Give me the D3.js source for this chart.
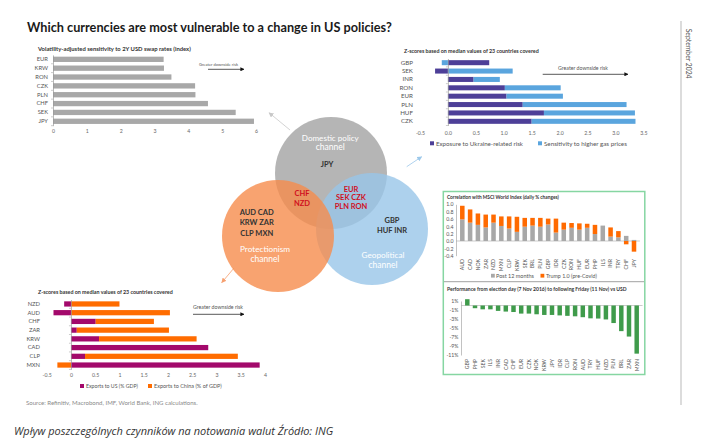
<!DOCTYPE html>
<html><head><meta charset="utf-8">
<script src="https://cdn.jsdelivr.net/npm/d3@7"></script>
<style>
html,body{margin:0;padding:0;background:#fff;}
svg{display:block;}
</style></head><body>
<svg id="c" width="706" height="445"></svg>
<script>
// ---------------- DATA ----------------
const swapCats = ["EUR","KRW","RON","CZK","PLN","CHF","SEK","JPY"];
const swapValues = [3.27,3.28,3.5,4.2,4.21,4.58,5.4,5.94];
const swapTicks = [0,1,2,3,4,5,6];

const geoCats = ["GBP","SEK","INR","RON","EUR","PLN","HUF","CZK"];
const ukraineExposure = [0.74,-0.23,0.46,1.02,1.05,1.34,1.72,1.5];
const gasSensitivity = [-0.11,1.16,0.47,1.0,1.01,1.86,1.63,1.86];
const geoTicks = [-0.5,0,0.5,1,1.5,2,2.5,3,3.5];

const tradeCats = ["NZD","AUD","CHF","ZAR","KRW","CAD","CLP","MXN"];
const exportsUS = [-0.14,-0.36,0.51,0.12,0.58,2.83,0.29,3.89];
const exportsChina = [1.0,2.04,1.2,1.9,2.01,0,3.15,-0.28];
const tradeTicks = [-0.5,0,0.5,1,1.5,2,2.5,3,3.5,4];

const corrCats = ["AUD","CAD","NOK","ZAR","NZD","MXN","CLP","KRW","SEK","BRL","PLN","GBP","IDR","CZK","RON","HUF","EUR","PHP","ILS","INR","TRY","CHF","JPY"];
const corrPost12m = [0.59,0.5,0.44,0.37,0.5,0.41,0.34,0.25,0.39,0.42,0.39,0.45,0.23,0.31,0.36,0.31,0.36,0.19,0.42,0.12,0.1,0.14,0.03];
const corrTrump1 = [0.37,0.36,0.31,0.35,0.22,0.26,0.33,0.41,0.24,0.21,0.24,0.16,0.38,0.19,0.13,0.17,0.11,0.25,0,0.25,0.17,-0.09,-0.29];
const corrTicks = [1.0,0.8,0.6,0.4,0.2,0,-0.2,-0.4];

const perfCats = ["GBP","PHP","SEK","ILS","INR","CAD","CHF","EUR","CZK","NOK","KRW","JPY","IDR","CLP","RON","AUD","TRY","HUF","NZD","PLN","BRL","ZAR","MXN"];
const perfValues = [1.4,-0.6,-0.85,-0.85,-1.2,-1.35,-1.45,-1.8,-1.8,-1.95,-2.1,-2.1,-2.2,-2.3,-2.4,-2.6,-2.85,-2.9,-3.1,-3.9,-5.7,-6.9,-10.7];
const perfTicks = [1,-1,-3,-5,-7,-9,-11];

const domesticCcy = ["JPY"];
const domesticProtCcy = ["CHF","NZD"];
const domesticGeoCcy = ["EUR","SEK  CZK","PLN RON"];
const protCcy = ["AUD CAD","KRW ZAR","CLP MXN"];
const geoCcy = ["GBP","HUF INR"];

// ---------------- HELPERS ----------------
const svg = d3.select("#c");
const FONT = "Lato, 'Open Sans', sans-serif";
svg.append("rect").attr("width",706).attr("height",445).attr("fill","#fff");

function fit(t, w){
  const L = t.node().getComputedTextLength();
  if (L > 0) { const fs = parseFloat(t.attr("font-size")); t.attr("font-size", (fs*w/L).toFixed(2)); }
  return t;
}
function txt(g, x, y, s, o = {}){
  const t = g.append("text").attr("x",x).attr("y",y).text(s)
    .attr("font-size", o.size || 6).attr("fill", o.fill || "#333")
    .attr("font-family", o.family || FONT)
    .attr("text-anchor", o.anchor || "start");
  if (o.weight) t.attr("font-weight", o.weight);
  if (o.style) t.attr("font-style", o.style);
  if (o.w) fit(t, o.w);
  return t;
}
const defs = svg.append("defs");
function marker(id, color, size){
  defs.append("marker").attr("id",id).attr("viewBox","0 0 10 10")
    .attr("refX",9).attr("refY",5).attr("markerWidth",size).attr("markerHeight",size)
    .attr("markerUnits","userSpaceOnUse").attr("orient","auto")
    .append("path").attr("d","M0,0L10,5L0,10z").attr("fill",color);
}
marker("mBlack","#111",4);
marker("mGray","#c8c8c8",5);
marker("mBlue","#9cc8ea",5);
marker("mOrange","#f6a070",5);
function arrow(x1,y1,x2,y2,color,m,w){
  svg.append("line").attr("x1",x1).attr("y1",y1).attr("x2",x2).attr("y2",y2)
    .attr("stroke",color).attr("stroke-width",w||0.8).attr("marker-end",`url(#${m})`);
}
function styleAxisText(g, size, fill){
  g.selectAll("text").attr("font-size",size).attr("fill",fill||"#666").attr("font-family",FONT);
}

// horizontal (diverging) stacked bar chart
function hChart(o){
  const x = d3.scaleLinear(o.xDomain, o.xRange);
  const y = d3.scaleBand(o.cats, o.yRange).paddingInner(0.4).paddingOuter(0.2);
  const rows = o.cats.map((c,i)=>{ const r={cat:c}; o.series.forEach(s=>r[s.key]=s.values[i]); return r; });
  const stacked = d3.stack().keys(o.series.map(s=>s.key)).offset(d3.stackOffsetDiverging)(rows);
  const g = svg.append("g");
  stacked.forEach((layer,li)=>{
    g.append("g").selectAll("rect").data(layer).join("rect")
      .attr("x", d=>x(Math.min(d[0],d[1])))
      .attr("width", d=>Math.abs(x(d[1])-x(d[0])))
      .attr("y", d=>y(d.data.cat)).attr("height", y.bandwidth())
      .attr("fill", o.series[li].color);
  });
  const ya = g.append("g").attr("transform",`translate(${x(0)},0)`)
    .call(d3.axisLeft(y).tickSize(2).tickSizeOuter(0).tickPadding(o.labelPad));
  ya.select(".domain").attr("stroke","#999").attr("stroke-width",0.7);
  ya.selectAll(".tick line").attr("stroke","#999").attr("stroke-width",0.5).attr("transform",`translate(0,${y.step()/2})`);
  styleAxisText(ya, o.catSize || 5.8, "#555");
  const xa = g.append("g").attr("transform",`translate(0,${o.tickY})`)
    .call(d3.axisBottom(x).tickValues(o.ticks).tickFormat(o.fmt).tickSize(0).tickPadding(0));
  xa.select(".domain").remove();
  styleAxisText(xa, 5.2, "#666");
  return {x,y};
}

// ---------------- TITLE ----------------
txt(svg, 27, 31.5, "Which currencies are most vulnerable to a change in US policies?", {size:14, weight:"bold", fill:"#1a1a1a", w:365});

// right vertical rule + date
svg.append("line").attr("x1",681).attr("x2",681).attr("y1",21).attr("y2",405).attr("stroke","#dcdcdc").attr("stroke-width",2);
txt(svg, 0, 0, "September 2024", {size:7, fill:"#555", w:50}).attr("transform","translate(686,28.7) rotate(90)");

// ---------------- TOP-LEFT ----------------
txt(svg, 38, 51, "Volatility-adjusted sensitivity to 2Y USD swap rates (index)", {size:6, fill:"#333", weight:"bold", w:153});
hChart({cats:swapCats, series:[{key:"v", values:swapValues, color:"#a8a8a8"}],
  xDomain:[0,6], xRange:[53,256], yRange:[54.9,125.7], ticks:swapTicks, fmt:d3.format("d"),
  labelPad:3, tickY:129.5});
txt(svg, 218.5, 66, "Greater downside risk", {size:5, fill:"#555", anchor:"middle", w:39});
arrow(208,69.3,244,69.3,"#111","mBlack",0.7);

// ---------------- TOP-RIGHT ----------------
txt(svg, 404, 52.5, "Z-scores based on median values of 23 countries covered", {size:6, fill:"#333", weight:"bold", w:135});
hChart({cats:geoCats, series:[{key:"u", values:ukraineExposure, color:"#4d3f98"},{key:"g", values:gasSensitivity, color:"#5aa5de"}],
  xDomain:[-0.5,3.5], xRange:[420,643.3], yRange:[58.5,125.5], ticks:geoTicks, fmt:d=>d.toFixed(1),
  labelPad:33, tickY:131.5, catSize:6.2});
txt(svg, 583, 70, "Greater downside risk", {size:5, fill:"#555", anchor:"middle", w:50});
arrow(542.7,74.3,628,74.3,"#111","mBlack",0.7);
// legend
svg.append("rect").attr("x",430).attr("y",141.3).attr("width",4).attr("height",4).attr("fill","#4d3f98");
txt(svg, 436, 145.5, "Exposure to Ukraine-related risk", {size:6, fill:"#555", w:87});
svg.append("rect").attr("x",538).attr("y",141.3).attr("width",4).attr("height",4).attr("fill","#5aa5de");
txt(svg, 544, 145.5, "Sensitivity to higher gas prices", {size:6, fill:"#555", w:83});

// ---------------- BOTTOM-LEFT ----------------
txt(svg, 38, 293.5, "Z-scores based on median values of 23 countries covered", {size:6, fill:"#333", weight:"bold", w:135});
hChart({cats:tradeCats, series:[{key:"us", values:exportsUS, color:"#a3096b"},{key:"cn", values:exportsChina, color:"#ff6c00"}],
  xDomain:[-0.5,4], xRange:[46.7,265], yRange:[299.6,369.4], ticks:tradeTicks, fmt:d=>String(d),
  labelPad:29, tickY:373.5});
txt(svg, 218, 309, "Greater downside risk", {size:5, fill:"#555", anchor:"middle", w:50});
arrow(193,314.3,244,314.3,"#111","mBlack",0.7);
svg.append("rect").attr("x",80).attr("y",384).attr("width",4).attr("height",4).attr("fill","#a3096b");
txt(svg, 86, 388, "Exports to US (% GDP)", {size:6, fill:"#555", w:52});
svg.append("rect").attr("x",148).attr("y",384).attr("width",4).attr("height",4).attr("fill","#ff6c00");
txt(svg, 154, 388, "Exports to China (% of GDP)", {size:6, fill:"#555", w:68});

// ---------------- VENN ----------------
const circles = [
  {cx:331, cy:173, r:56, fill:"#a2a2a2"},
  {cx:372, cy:229, r:56, fill:"#98c5e8"},
  {cx:278, cy:236, r:56, fill:"#f68c4c"}
];
arrow(290,130,269,112.7,"#c8c8c8","mGray",0.8);
arrow(406.7,166.7,421.7,156.7,"#9cc8ea","mBlue",0.8);
arrow(234,268,221.7,282.7,"#f6a070","mOrange",0.8);
svg.append("g").selectAll("circle").data(circles).join("circle")
  .attr("cx",d=>d.cx).attr("cy",d=>d.cy).attr("r",d=>d.r).attr("fill",d=>d.fill).attr("fill-opacity",0.8);

const W = "#ffffff", DARK = "#333333", RED = "#d0101e";
txt(svg, 330.3, 140.5, "Domestic policy", {size:9, fill:W, anchor:"middle", w:57});
txt(svg, 330.3, 150, "channel", {size:9, fill:W, anchor:"middle", w:29});
domesticCcy.forEach((s,i)=>txt(svg, 327, 167 + i*10, s, {size:7.5, fill:DARK, anchor:"middle", weight:"bold"}));
domesticProtCcy.forEach((s,i)=>txt(svg, 302, 196 + i*10, s, {size:7.5, fill:RED, anchor:"middle", weight:"bold"}));
domesticGeoCcy.forEach((s,i)=>txt(svg, 351, 191.5 + i*8.8, s, {size:7.5, fill:RED, anchor:"middle", weight:"bold"}));
protCcy.forEach((s,i)=>txt(svg, 256.7, 214.5 + i*10.5, s, {size:7.5, fill:DARK, anchor:"middle", weight:"bold"}));
txt(svg, 265, 251.7, "Protectionism", {size:9, fill:W, anchor:"middle", w:50});
txt(svg, 265, 261.5, "channel", {size:9, fill:W, anchor:"middle", w:29});
geoCcy.forEach((s,i)=>txt(svg, 392, 222.5 + i*10.5, s, {size:7.5, fill:DARK, anchor:"middle", weight:"bold"}));
txt(svg, 383, 258, "Geopolitical", {size:9, fill:W, anchor:"middle", w:43});
txt(svg, 383, 267.8, "channel", {size:9, fill:W, anchor:"middle", w:29});

// ---------------- RIGHT BOX ----------------
svg.append("rect").attr("x",443.3).attr("y",191.5).attr("width",201.5).attr("height",183)
  .attr("fill","none").attr("stroke","#86d6a2").attr("stroke-width",1.5);
svg.append("line").attr("x1",444).attr("x2",644).attr("y1",281.7).attr("y2",281.7).attr("stroke","#444").attr("stroke-width",0.5);

function vChart(o){
  const x = d3.scaleBand(o.cats, o.xRange).paddingInner(0.42).paddingOuter(0.21);
  const y = d3.scaleLinear(o.yDomain, o.yRange);
  const rows = o.cats.map((c,i)=>{ const r={cat:c}; o.series.forEach(s=>r[s.key]=s.values[i]); return r; });
  const stacked = d3.stack().keys(o.series.map(s=>s.key)).offset(d3.stackOffsetDiverging)(rows);
  const g = svg.append("g");
  const ya = g.append("g").attr("transform",`translate(${o.axisX},0)`)
    .call(d3.axisLeft(y).tickValues(o.ticks).tickFormat(o.fmt).tickSize(0).tickPadding(2.5));
  ya.select(".domain").attr("stroke","#999").attr("stroke-width",0.6);
  styleAxisText(ya, 5.2, "#555");
  g.append("line").attr("x1",o.axisX).attr("x2",o.xRange[1]+2).attr("y1",y(0)).attr("y2",y(0)).attr("stroke","#aaa").attr("stroke-width",0.6);
  stacked.forEach((layer,li)=>{
    g.append("g").selectAll("rect").data(layer).join("rect")
      .attr("x", d=>x(d.data.cat)).attr("width", x.bandwidth())
      .attr("y", d=>y(Math.max(d[0],d[1])))
      .attr("height", d=>Math.abs(y(d[0])-y(d[1])))
      .attr("fill", o.series[li].color);
  });
  g.append("g").selectAll("text").data(o.cats).join("text")
    .attr("transform", d=>`translate(${x(d)+x.bandwidth()/2+1.8},${o.labelTop}) rotate(-90)`)
    .attr("text-anchor","end").attr("font-size",5.2).attr("fill","#555").attr("font-family",FONT)
    .text(d=>d);
}

txt(svg, 447, 199, "Correlation with MSCI World Index (daily % changes)", {size:5.5, fill:"#333", weight:"bold", w:112});
vChart({cats:corrCats, series:[{key:"p",values:corrPost12m,color:"#a8a8a8"},{key:"t",values:corrTrump1,color:"#ff6a00"}],
  xRange:[458.4,637.9], yDomain:[-0.4,1], yRange:[255.7,204.3], ticks:corrTicks, fmt:d=>d.toFixed(1),
  axisX:456, labelTop:259});
svg.append("rect").attr("x",491).attr("y",273.8).attr("width",3.8).attr("height",3.8).attr("fill","#a8a8a8");
txt(svg, 496, 277.6, "Post 12 months", {size:5.5, fill:"#555", w:38});
svg.append("rect").attr("x",540.5).attr("y",273.8).attr("width",3.8).attr("height",3.8).attr("fill","#ff6a00");
txt(svg, 546, 277.6, "Trump 1.0 (pre-Covid)", {size:5.5, fill:"#555", w:51});

txt(svg, 447, 291, "Performance from election day (7 Nov 2016) to following Friday (11 Nov) vs USD", {size:5.5, fill:"#333", weight:"bold", w:180});
vChart({cats:perfCats, series:[{key:"v",values:perfValues,color:"#3f9b4b"}],
  xRange:[463.45,640.55], yDomain:[-11,1], yRange:[355,301], ticks:perfTicks, fmt:d=>d+"%",
  axisX:461, labelTop:359});

// ---------------- FOOTER ----------------
txt(svg, 26, 404.5, "Source: Refinitiv, Macrobond, IMF, World Bank, ING calculations.", {size:5.5, fill:"#8a8a8a", w:172});
txt(svg, 14, 435, "Wpływ poszczególnych czynników na notowania walut Źródło: ING", {size:12, fill:"#333", style:"italic", family:"'Open Sans', Roboto, sans-serif", w:319});
</script>
</body></html>
